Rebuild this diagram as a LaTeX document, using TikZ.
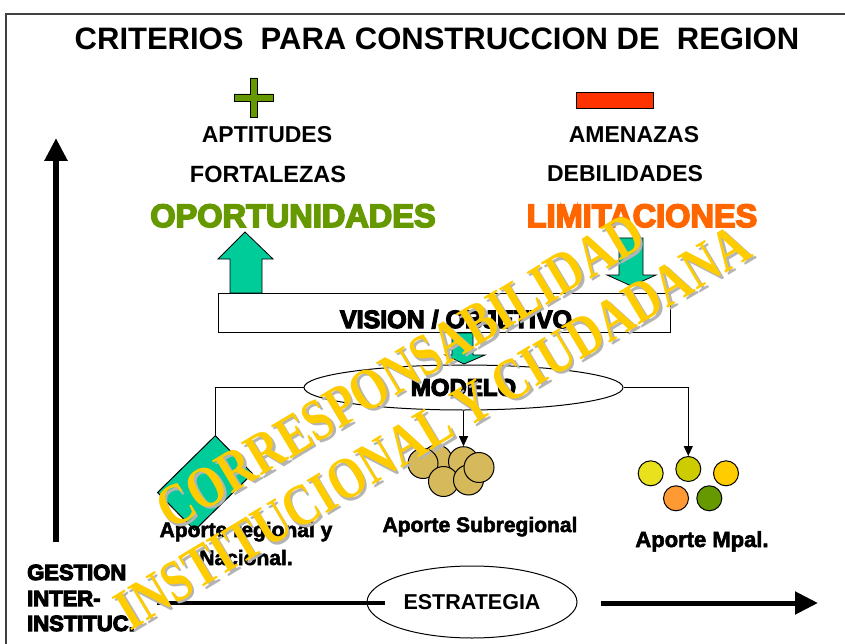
\documentclass[tikz,border=0pt]{standalone}
\usepackage{fontspec}
\setmainfont{Liberation Sans}
\newfontfamily\heavy[FakeBold=5]{Liberation Sans Bold}
\newfontfamily\medium[FakeBold=2.5]{Liberation Sans Bold}
\newfontfamily\wmfont{Liberation Serif}
\usetikzlibrary{arrows.meta,shapes.geometric}
\definecolor{cOlive}{HTML}{669900}
\definecolor{cRed}{HTML}{FF3300}
\definecolor{cOrange}{HTML}{FF6600}
\definecolor{cTeal}{HTML}{00CC99}
\definecolor{cTan}{HTML}{D6B95A}
\definecolor{cYel}{HTML}{E9E11C}
\definecolor{cYelOl}{HTML}{CCCC00}
\definecolor{cGold}{HTML}{FFCC00}
\definecolor{cOr2}{HTML}{FF9933}
\definecolor{cWm}{HTML}{FFCC00}
\definecolor{cShadow}{HTML}{B4B4B4}
\definecolor{cFrame}{HTML}{404040}
\tikzset{
  fs/.style={font=\bfseries\fontsize{#1}{#1}\selectfont},
  hv/.style={font=\heavy\fontsize{#1}{#1}\selectfont},
  md/.style={font=\medium\fontsize{#1}{#1}\selectfont},
  txt/.style={anchor=base, inner sep=0pt},
  blockarrow/.style={fill=cTeal, draw=black, line width=0.8pt, line join=miter},
  conn/.style={draw=black, line width=1pt},
  smallarrow/.style={conn, -{Triangle[length=10pt,width=9pt]}},
  subcirc/.style={circle, draw=black, line width=1pt, fill=cTan, minimum size=30pt, inner sep=0pt},
  mpcirc/.style={circle, draw=black, line width=1pt, minimum size=25pt, inner sep=0pt},
  wm/.style={font=\wmfont\bfseries\fontsize{47}{47}\selectfont, inner sep=0pt, rotate=31, yscale=1.25},
}
\begin{document}
\begin{tikzpicture}[x=1pt,y=-1pt]
\useasboundingbox (0,0) rectangle (845,644);
% frame
\draw[cFrame, line width=1.2pt] (6,644) -- (6,14) -- (845,14);
% title
\node[txt, fs=31] (title) at (437,50) {CRITERIOS\ \ PARA CONSTRUCCION DE\ \ REGION};
% plus and minus
\fill[cOlive, draw=black, line width=0.8pt] (250,78) -- (257,78) -- (257,94) -- (273,94) -- (273,101) -- (257,101) -- (257,117) -- (250,117) -- (250,101) -- (234,101) -- (234,94) -- (250,94) -- cycle;
\node[draw=black, line width=0.8pt, fill=cRed, minimum width=77pt, minimum height=16pt, inner sep=0pt] (minus) at (614.5,100) {};
% labels
\node[txt, fs=23] (apt) at (267,143) {APTITUDES};
\node[txt, fs=23.5] (fort) at (268,183) {FORTALEZAS};
\node[txt, fs=23] (amen) at (634,143) {AMENAZAS};
\node[txt, fs=23] (debi) at (625,182) {DEBILIDADES};
\node[txt, hv=32.5, text=cOlive] (oport) at (293,227) {OPORTUNIDADES};
\node[txt, hv=32.5, text=cOrange] (limit) at (642,227) {LIMITACIONES};
% vision box
\node[draw=black, line width=1pt, fill=white, minimum width=452pt, minimum height=39pt, inner sep=0pt] (vision) at (444,312.5) {};
\node[txt, hv=25] (visiontxt) at (456,328) {VISION / OBJETIVO};
% block arrows
\path[blockarrow] (230,293) -- (230,259) -- (218,259) -- (245,232) -- (273,259) -- (262,259) -- (262,293) -- cycle;
\path[blockarrow] (619,238) -- (643,238) -- (643,275) -- (656,275) -- (631.5,286) -- (607,275) -- (619,275) -- cycle;
\path[blockarrow] (452,333) -- (473,333) -- (473,355) -- (485,355) -- (464,364) -- (445,355) -- (452,355) -- cycle;
% modelo
\node[ellipse, draw=black, line width=1pt, fill=white, minimum width=319pt, minimum height=45pt, inner sep=0pt, hv=24] (modelo) at (463.5,387.5) {MODELO};
% regional diamond
\node[draw=black, line width=1pt, fill=cTeal, minimum width=81pt, minimum height=53pt, inner sep=0pt, rotate=44.5] (regional) at (205,483) {};
% subregional circles
\node[subcirc] (s2) at (437,460) {};
\node[subcirc] (s1) at (423,463.5) {};
\node[subcirc] (s3) at (463.5,461.7) {};
\node[subcirc] (s5) at (443.5,481.5) {};
\node[subcirc] (s6) at (468.5,480) {};
\node[subcirc] (s4) at (479,467.5) {};
% mpal circles
\node[mpcirc, fill=cYel] (m1) at (650.7,473.3) {};
\node[mpcirc, fill=cYelOl] (m2) at (688.3,469) {};
\node[mpcirc, fill=cGold] (m3) at (726,473.3) {};
\node[mpcirc, fill=cOr2] (m4) at (676,498.3) {};
\node[mpcirc, fill=cOlive] (m5) at (709.3,498.3) {};
% connectors
\draw[conn] (modelo.west) -| (regional.north east);
\draw[smallarrow] (modelo.south) -- (s3.north);
\draw[smallarrow] (modelo.east) -| (m2.north);
% aporte labels
\node[txt, md=21] (apreg1) at (246,537) {Aporte regional y};
\node[txt, md=21] (apreg2) at (246,565) {Nacional.};
\node[txt, md=21] (apsub) at (480,532) {Aporte Subregional};
\node[txt, md=22] (apmp) at (702,547) {Aporte Mpal.};
% left vertical arrow
\coordinate (vbot) at (56,542);
\coordinate (vtop) at (56,138);
\draw[line width=6pt, -{Triangle[length=23pt,width=22pt]}] (vbot) -- (vtop);
% gestion
\node[txt, hv=22, anchor=base west] (g1) at (27,580) {GESTION};
\node[txt, hv=22, anchor=base west] (g2) at (27,606) {INTER-};
\node[txt, hv=22, anchor=base west] (g3) at (27,631) {INSTITUC.};
% estrategia
\node[ellipse, draw=black, line width=1pt, minimum width=210pt, minimum height=72pt, inner sep=0pt, fs=21.5] (estr) at (472,602) {ESTRATEGIA};
\coordinate (hl) at (157,603);
\draw[line width=3.5pt] (hl) -- ([xshift=18pt,yshift=-1pt]estr.west);
\coordinate (hr) at (818,603);
\draw[line width=5pt, -{Triangle[length=23pt,width=22pt]}] ([xshift=23pt,yshift=-1pt]estr.east) -- (hr);
% watermark
\node[wm, text=cShadow] at (402.5,373.5) {CORRESPONSABILIDAD};
\node[wm, text=cWm] (wm1) at (400,371) {CORRESPONSABILIDAD};
\node[wm, text=cShadow] at (435.5,429.5) {INSTITUCIONAL Y CIUDADANA};
\node[wm, text=cWm] (wm2) at (433,427) {INSTITUCIONAL Y CIUDADANA};
\end{tikzpicture}
\end{document}
